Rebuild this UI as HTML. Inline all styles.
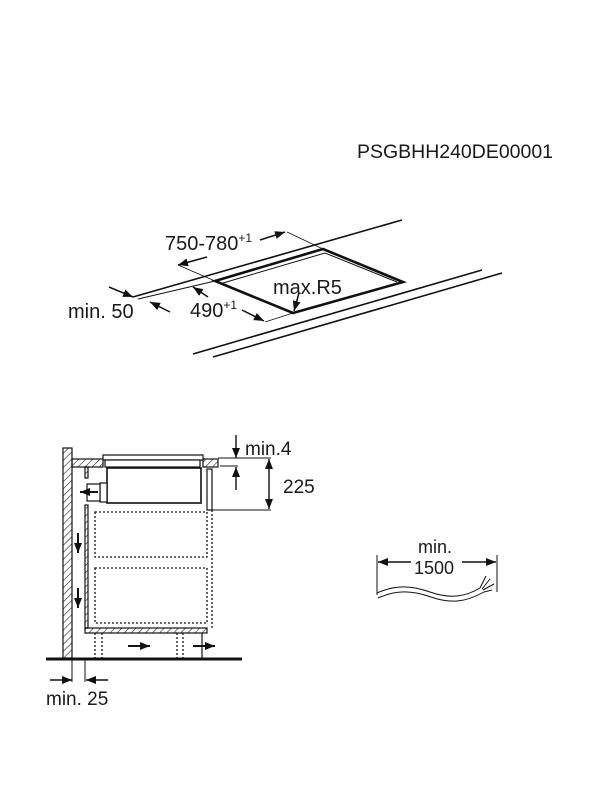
<!DOCTYPE html>
<html><head><meta charset="utf-8"><style>
html,body{margin:0;padding:0;background:#fff;}
svg{display:block;}
text{font-family:"Liberation Sans",Arial,sans-serif;fill:#1a1a1a;}
</style></head><body>
<svg width="600" height="800" viewBox="0 0 600 800" xmlns="http://www.w3.org/2000/svg">
<defs>
<pattern id="h" width="5" height="5" patternUnits="userSpaceOnUse" patternTransform="rotate(45)">
<line x1="0" y1="0" x2="0" y2="5" stroke="#222" stroke-width="1.2"/>
</pattern>
<marker id="a" viewBox="0 0 10 10" refX="10" refY="5" markerWidth="10" markerHeight="10" orient="auto-start-reverse" markerUnits="userSpaceOnUse">
<path d="M0,1 L10,5 L0,9 Z" fill="#111"/>
</marker>
</defs>

<text x="357" y="158" font-size="19" textLength="196" lengthAdjust="spacingAndGlyphs">PSGBHH240DE00001</text>

<!-- top perspective -->
<g stroke="#111" fill="none">
<line x1="133" y1="297" x2="402" y2="220" stroke-width="1.6"/>
<line x1="138" y1="299" x2="215" y2="281" stroke-width="1"/>
<line x1="193" y1="354" x2="482" y2="270" stroke-width="1.6"/>
<line x1="213" y1="357" x2="502" y2="273" stroke-width="1.6"/>
<polygon points="215,281 323,249 403,282 293,313" stroke-width="2.6"/>
<polyline points="223,283 325,253 397,282" stroke-width="1"/>
<line x1="178" y1="265" x2="215" y2="281" stroke-width="0.8"/>
<line x1="287" y1="232" x2="323" y2="249" stroke-width="0.8"/>
<line x1="265" y1="322" x2="293" y2="313" stroke-width="0.8"/>
<line x1="207" y1="257" x2="178" y2="265" stroke-width="1.5" marker-end="url(#a)"/>
<line x1="260" y1="240" x2="285" y2="232" stroke-width="1.5" marker-end="url(#a)"/>
<line x1="208" y1="297" x2="193" y2="287" stroke-width="1.5" marker-end="url(#a)"/>
<line x1="242" y1="310" x2="264" y2="321" stroke-width="1.5" marker-end="url(#a)"/>
<line x1="109" y1="287" x2="133" y2="297" stroke-width="1.5" marker-end="url(#a)"/>
<line x1="170" y1="312" x2="150" y2="302" stroke-width="1.5" marker-end="url(#a)"/>
<line x1="299" y1="293" x2="294" y2="311" stroke-width="1.5" marker-end="url(#a)"/>
</g>
<text x="165" y="250" font-size="20">750-780<tspan font-size="12" dy="-8">+1</tspan></text>
<text x="190" y="317" font-size="20">490<tspan font-size="12" dy="-8">+1</tspan></text>
<text x="68" y="318" font-size="20">min. 50</text>
<text x="273" y="294" font-size="20">max.R5</text>

<!-- side section -->
<g stroke="#111" stroke-width="1.2">
<rect x="63" y="448" width="9" height="210" fill="url(#h)"/>
<rect x="72" y="459" width="31" height="8" fill="url(#h)"/>
<rect x="203" y="459" width="15" height="8" fill="url(#h)"/>
<rect x="103" y="455" width="100" height="5" fill="#fff"/>
<rect x="105" y="460" width="95" height="7" fill="#fff"/>
<rect x="107" y="468" width="94" height="35" fill="#fff" stroke-width="1.6"/>
<rect x="100" y="483" width="7" height="19" fill="#fff"/>
<rect x="87" y="484" width="13" height="17" fill="#fff"/>
<rect x="85" y="467" width="3" height="11" fill="url(#h)"/>
<rect x="207" y="469" width="5" height="41" fill="#fff"/>
<rect x="85" y="505" width="3" height="123" fill="url(#h)"/>
<rect x="85" y="628" width="122" height="5" fill="url(#h)"/>
<line x1="202" y1="633" x2="202" y2="658"/>
<line x1="46" y1="659" x2="242" y2="659" stroke-width="3"/>
</g>
<g stroke="#111" stroke-width="1.3" fill="none" stroke-dasharray="2,2">
<rect x="95" y="512" width="112" height="45"/>
<rect x="95" y="568" width="112" height="55"/>
<line x1="212" y1="510" x2="212" y2="630"/>
<line x1="95" y1="633" x2="95" y2="658"/>
<line x1="102" y1="633" x2="102" y2="658"/>
<line x1="177" y1="633" x2="177" y2="658"/>
<line x1="183" y1="633" x2="183" y2="658"/>
</g>
<g stroke="#111" stroke-width="2" fill="none">
<line x1="98" y1="492" x2="80" y2="492" marker-end="url(#a)"/>
<line x1="78" y1="533" x2="78" y2="553" marker-end="url(#a)"/>
<line x1="78" y1="588" x2="78" y2="608" marker-end="url(#a)"/>
<line x1="128" y1="646" x2="150" y2="646" marker-end="url(#a)"/>
<line x1="193" y1="646" x2="215" y2="646" marker-end="url(#a)"/>
</g>
<g stroke="#111" stroke-width="1" fill="none">
<line x1="218" y1="458" x2="271" y2="458"/>
<line x1="212" y1="510" x2="271" y2="510"/>
<line x1="220" y1="466" x2="238" y2="466"/>
<line x1="236" y1="435" x2="236" y2="458" stroke-width="1.4" marker-end="url(#a)"/>
<line x1="236" y1="490" x2="236" y2="467" stroke-width="1.4" marker-end="url(#a)"/>
<line x1="269" y1="470" x2="269" y2="459" stroke-width="1.4" marker-end="url(#a)"/>
<line x1="269" y1="470" x2="269" y2="509" stroke-width="1.4" marker-end="url(#a)"/>
<line x1="72" y1="659" x2="72" y2="682"/>
<line x1="85" y1="659" x2="85" y2="682"/>
<line x1="50" y1="680" x2="72" y2="680" stroke-width="1.4" marker-end="url(#a)"/>
<line x1="108" y1="680" x2="86" y2="680" stroke-width="1.4" marker-end="url(#a)"/>
</g>
<text x="245" y="455" font-size="19">min.4</text>
<text x="283" y="493" font-size="19">225</text>
<text x="46" y="705" font-size="19">min. 25</text>

<!-- cable -->
<g stroke="#111" stroke-width="1" fill="none">
<line x1="377" y1="555" x2="377" y2="595"/>
<line x1="497" y1="555" x2="497" y2="592"/>
<line x1="411" y1="562" x2="378" y2="562" stroke-width="1.4" marker-end="url(#a)"/>
<line x1="462" y1="562" x2="496" y2="562" stroke-width="1.4" marker-end="url(#a)"/>
<path d="M377,593 C395,585 410,585 430,592 C450,599 465,597 480,588"/>
<path d="M378,598 C396,590 411,590 431,597 C451,604 466,602 484,592"/>
<path d="M480,588 L486,576 M482,589 L490,579 M483,590 L494,584 M484,592 L492,590"/>
</g>
<text x="418" y="553" font-size="18">min.</text>
<text x="414" y="574" font-size="18">1500</text>
</svg>
</body></html>
